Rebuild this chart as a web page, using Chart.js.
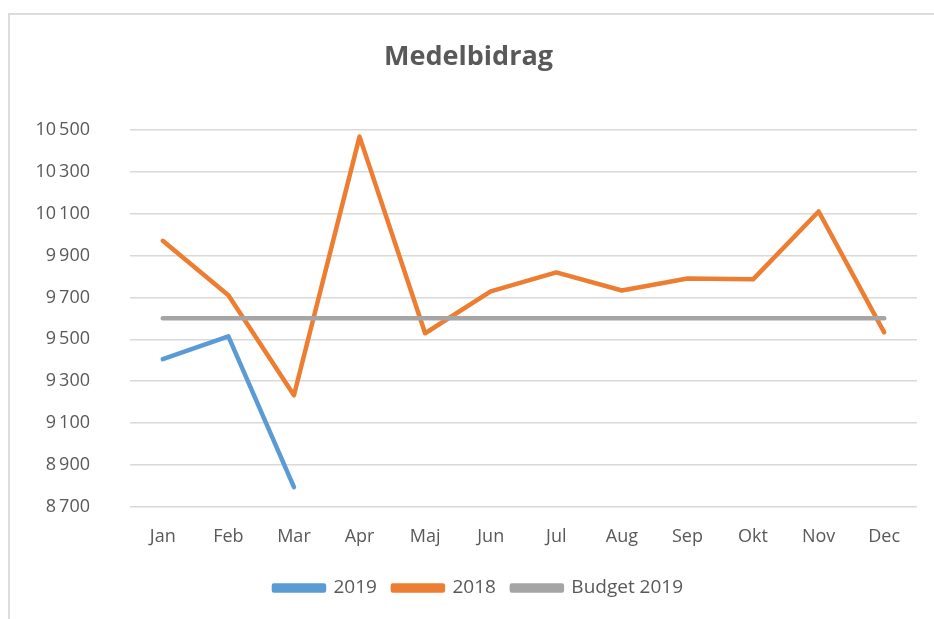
<!DOCTYPE html>
<html>
<head>
<meta charset="utf-8">
<script src="https://cdn.jsdelivr.net/npm/chart.js@4/dist/chart.umd.min.js"></script>
<style>
  html, body { margin: 0; padding: 0; background: #fff; overflow: hidden; }
  .frame {
    position: absolute; left: 8px; top: 13px; width: 960px; height: 640px;
    border-left: 2px solid #dcdcdc; border-top: 2px solid #dcdcdc;
  }
  .wrap { position: absolute; left: 0; top: 0; width: 934px; height: 619px; }
</style>
</head>
<body>
<div class="frame"></div>
<div class="wrap"><canvas id="lineChart"></canvas></div>
<script>
const months = ["Jan", "Feb", "Mar", "Apr", "Maj", "Jun", "Jul", "Aug", "Sep", "Okt", "Nov", "Dec"];
const values2019 = [9405, 9514, 8795, null, null, null, null, null, null, null, null, null];
const values2018 = [9970, 9710, 9233, 10467, 9529, 9729, 9819, 9733, 9790, 9786, 10110, 9533];
const budget2019 = [9600, 9600, 9600, 9600, 9600, 9600, 9600, 9600, 9600, 9600, 9600, 9600];
const yMin = 8700;
const yMax = 10500;
const yStep = 200;

const textColor = "#595959";
const fontFamily = "'Open Sans', 'Liberation Sans', sans-serif";

// thousands separated with a space, like "10 500"
const formatTick = (v) => String(v).replace(/\B(?=(\d{3})+(?!\d))/g, "\u2009");

// legend sits centred under the plot, not under the whole canvas
const legendShift = {
  id: "legendShift",
  afterLayout: (chart) => {
    chart.legend.left += 10;
    chart.legend.right += 10;
  },
};

const ctx = document.getElementById("lineChart").getContext("2d");
const lineChart = new Chart(ctx, {
  type: "line",
  data: {
    labels: months,
    datasets: [
      {
        label: "2019",
        data: values2019,
        borderColor: "#5b9bd5",
        backgroundColor: "#5b9bd5",
        order: 2,
      },
      {
        label: "2018",
        data: values2018,
        borderColor: "#ed7d31",
        backgroundColor: "#ed7d31",
        order: 1,
      },
      {
        label: "Budget 2019",
        data: budget2019,
        borderColor: "#a5a5a5",
        backgroundColor: "#a5a5a5",
        order: 0,
      },
    ],
  },
  options: {
    responsive: true,
    maintainAspectRatio: false,
    animation: false,
    elements: {
      line: {
        borderWidth: 4.5,
        tension: 0,
        borderCapStyle: "round",
        borderJoinStyle: "round",
      },
      point: { radius: 0, hoverRadius: 0 },
    },
    layout: {
      padding: { left: 20, right: 17, top: 0, bottom: 11.5 },
    },
    plugins: {
      title: {
        display: true,
        text: "Medelbidrag",
        color: textColor,
        font: { family: fontFamily, size: 27, weight: "bold" },
        padding: { top: 41.5, bottom: 55.8 },
      },
      legend: {
        position: "bottom",
        labels: {
          color: textColor,
          font: { family: fontFamily, size: 19 },
          boxWidth: 50,
          boxHeight: 5,
          padding: 16,
          sort: (a, b) => a.datasetIndex - b.datasetIndex,
        },
      },
      tooltip: { enabled: false },
    },
    scales: {
      x: {
        offset: true,
        afterFit: (scale) => {
          scale.height = 55.5;
        },
        grid: { display: false, drawTicks: false },
        border: { display: false },
        ticks: {
          color: textColor,
          font: { family: fontFamily, size: 18 },
          padding: 19,
          maxRotation: 0,
        },
      },
      y: {
        min: yMin,
        max: yMax,
        afterFit: (scale) => {
          scale.width = 110;
        },
        grid: { color: "#d9d9d9", lineWidth: 1.5, drawTicks: false },
        border: { display: false },
        ticks: {
          stepSize: yStep,
          color: textColor,
          font: { family: fontFamily, size: 18 },
          padding: 40,
          callback: (v) => formatTick(v),
        },
      },
    },
  },
  plugins: [legendShift],
});
</script>
</body>
</html>
